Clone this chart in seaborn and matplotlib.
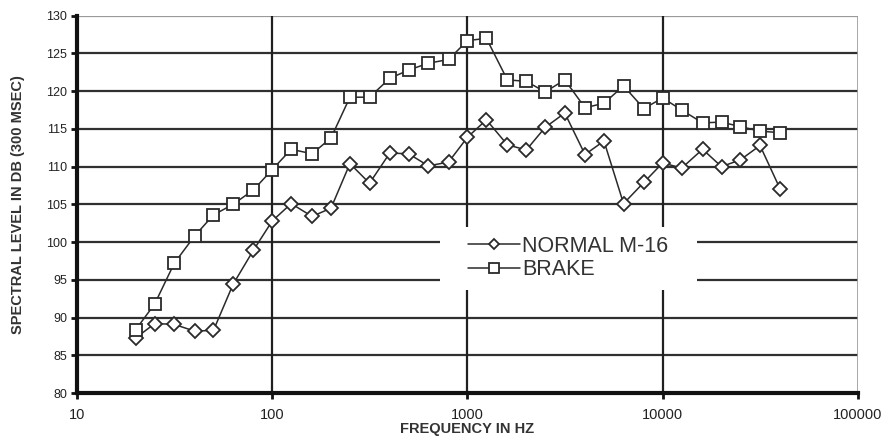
import numpy as np
import pandas as pd
import matplotlib
matplotlib.use("Agg")
import matplotlib.pyplot as plt
from matplotlib.patches import Rectangle
import seaborn as sns

# One-third octave band centre frequencies (Hz)
frequency_hz = [20, 25, 31.5, 40, 50, 63, 80, 100, 125, 160, 200, 250, 315, 400,
                500, 630, 800, 1000, 1250, 1600, 2000, 2500, 3150, 4000, 5000,
                6300, 8000, 10000, 12500, 16000, 20000, 25000, 31500, 40000]

# Spectral level in dB (300 msec)
normal_m16 = [87.3, 89.2, 89.1, 88.2, 88.3, 94.4, 98.9, 102.8, 105.1, 103.4,
              104.5, 110.4, 107.8, 111.8, 111.7, 110.1, 110.6, 113.9, 116.2,
              112.9, 112.2, 115.2, 117.1, 111.6, 113.4, 105.1, 107.9, 110.5,
              109.8, 112.3, 110.0, 110.9, 112.8, 107.0]
brake = [88.4, 91.8, 97.2, 100.8, 103.6, 105.0, 106.9, 109.6, 112.3, 111.7,
         113.8, 119.2, 119.2, 121.7, 122.8, 123.7, 124.2, 126.7, 127.0, 121.5,
         121.3, 119.9, 121.5, 117.8, 118.4, 120.7, 117.7, 119.1, 117.5, 115.8,
         115.9, 115.3, 114.7, 114.5]

series_names = ["NORMAL M-16", "BRAKE"]
x_ticks = [10, 100, 1000, 10000, 100000]
y_ticks = list(range(80, 131, 5))

sns.set_theme(style="white")
plt.rcParams["font.family"] = ["Liberation Sans", "DejaVu Sans"]

fig = plt.figure(figsize=(8.89, 4.41), dpi=100)
ax = fig.add_axes([0.0866, 0.1088, 0.8785, 0.8556])

df = pd.DataFrame({"freq": frequency_hz, "normal": normal_m16, "brake": brake})

line_col = "#2a2a2a"
sns.lineplot(data=df, x="freq", y="normal", ax=ax, color=line_col, lw=1.1,
             marker="D", markersize=7, markerfacecolor="white",
             markeredgecolor=line_col, markeredgewidth=1.3,
             label=series_names[0], zorder=5)
sns.lineplot(data=df, x="freq", y="brake", ax=ax, color=line_col, lw=1.1,
             marker="s", markersize=8.5, markerfacecolor="white",
             markeredgecolor=line_col, markeredgewidth=1.3,
             label=series_names[1], zorder=5)

ax.set_xscale("log")
ax.set_xlim(10, 100000)
ax.set_ylim(80, 130)

# Grid: horizontal every 5 dB, vertical at decades
for yv in y_ticks[1:-1]:
    ax.axhline(yv, color="#303030", lw=1.6, zorder=1)
ax.axhline(130, color="#9a9a9a", lw=1.6, zorder=1)
for xv in x_ticks[1:-1]:
    ax.axvline(xv, color="#202020", lw=1.6, zorder=1)
ax.axvline(100000, color="#9a9a9a", lw=1.2, zorder=1)

for side in ["top", "right"]:
    ax.spines[side].set_visible(False)
for side in ["left", "bottom"]:
    ax.spines[side].set_linewidth(3)
    ax.spines[side].set_color("#111111")

ax.set_xticks(x_ticks)
ax.set_xticklabels([str(v) for v in x_ticks])
ax.minorticks_off()
ax.set_yticks(y_ticks)
ax.set_yticklabels([str(v) for v in y_ticks])
ax.tick_params(axis="both", which="major", direction="out", length=4, width=2,
               color="#111111", labelcolor="#222222", left=True, bottom=True)
ax.tick_params(axis="y", labelsize=9, pad=3)
ax.tick_params(axis="x", labelsize=10.5, pad=7)

ax.set_xlabel("FREQUENCY IN HZ", fontsize=10.5, fontweight="bold", color="#333333",
              labelpad=0)
ax.set_ylabel("SPECTRAL LEVEL IN DB (300 MSEC)", fontsize=10.5, fontweight="bold",
              color="#333333", labelpad=15)

# White panel behind the legend, blanking the grid there
ax.add_patch(Rectangle((0.465, 0.273), 0.329, 0.167, transform=ax.transAxes,
                       facecolor="white", edgecolor="none", zorder=3))

leg = ax.legend(loc="center", bbox_to_anchor=(0.629, 0.358), frameon=False,
                fontsize=15.5, handlelength=2.4, handletextpad=0.1,
                labelspacing=0.12, borderpad=0.2)
leg.set_zorder(10)
handles = leg.legend_handles
handles[0].set_markersize(5.5)
handles[1].set_markersize(7)
for h in handles:
    h.set_linewidth(1.1)
for t in leg.get_texts():
    t.set_color("#333333")

fig.savefig("out.png", dpi=100, facecolor="white")
